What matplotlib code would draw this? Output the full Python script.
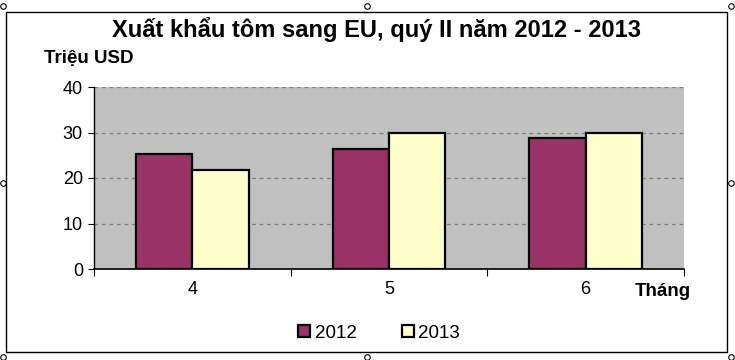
import numpy as np
import matplotlib.pyplot as plt
from matplotlib.patches import Rectangle

# Data
thang = ['4', '5', '6']
nam_2012 = [25.2, 26.3, 28.7]
nam_2013 = [21.7, 30.0, 29.9]

plt.rcParams['font.family'] = ['Liberation Sans', 'DejaVu Sans']

fig = plt.figure(figsize=(7.35, 3.6), dpi=100)
ax = fig.add_axes([94/735, 1-269/360, 590/735, 182/360])

x = np.arange(len(thang))
w = 0.2857
ax.bar(x - w/2, nam_2012, width=w, color='#993366', edgecolor='black', linewidth=1.6, zorder=3, label='2012')
ax.bar(x + w/2, nam_2013, width=w, color='#FFFFCC', edgecolor='black', linewidth=1.6, zorder=3, label='2013')

ax.set_facecolor('#C0C0C0')
ax.set_xlim(-0.5, 2.5)
ax.set_ylim(0, 40)
ax.set_yticks([0, 10, 20, 30, 40])
ax.yaxis.grid(True, linestyle=(0, (3, 3)), color='#808080', linewidth=0.9, zorder=1)
for s in ['top', 'right']:
    ax.spines[s].set_visible(False)
ax.spines['left'].set_linewidth(1)
ax.spines['bottom'].set_linewidth(1.2)
ax.set_xticks([-0.5, 0.5, 1.5, 2.5])
ax.set_xticklabels([])
ax.set_xticks(x, minor=True)
ax.set_xticklabels(thang, minor=True, fontsize=13)
ax.tick_params(axis='x', which='minor', length=0, pad=9)
ax.tick_params(axis='x', which='major', length=5, direction='out')
ax.tick_params(axis='y', length=4, direction='out', labelsize=13, pad=4)

# Title and labels
fig.text(377/735, 1-30/360, 'Xuất khẩu tôm sang EU, quý II năm 2012 - 2013', ha='center', va='center',
         fontsize=17, fontweight='bold')
fig.text(44/735, 1-58/360, 'Triệu USD', ha='left', va='center', fontsize=13.5, fontweight='bold')
fig.text(635/735, 1-292/360, 'Tháng', ha='left', va='center', fontsize=13.5, fontweight='bold')

leg = fig.legend(loc='center', bbox_to_anchor=(379/735, 1-333/360), ncol=2, frameon=False,
                 fontsize=13.5, handlelength=0.65, handleheight=0.65, columnspacing=2.4, handletextpad=0.25)

# Outer frame and selection handles
fig.patches.append(Rectangle((6/735, 1-352/360), 721/735, 340/360, transform=fig.transFigure,
                             fill=False, edgecolor='black', linewidth=1))
hx = [3/735, 367/735, 731/735]
hy = [1-6/360, 1-183/360, 1-357/360]
for px in hx:
    for py in hy:
        if px == 367/735 and py == 1-183/360:
            continue
        fig.add_artist(plt.Line2D([px], [py], marker='o', markersize=4, markerfacecolor='white',
                                  markeredgecolor='black', markeredgewidth=0.8, transform=fig.transFigure))

fig.savefig('out.png', dpi=100)
